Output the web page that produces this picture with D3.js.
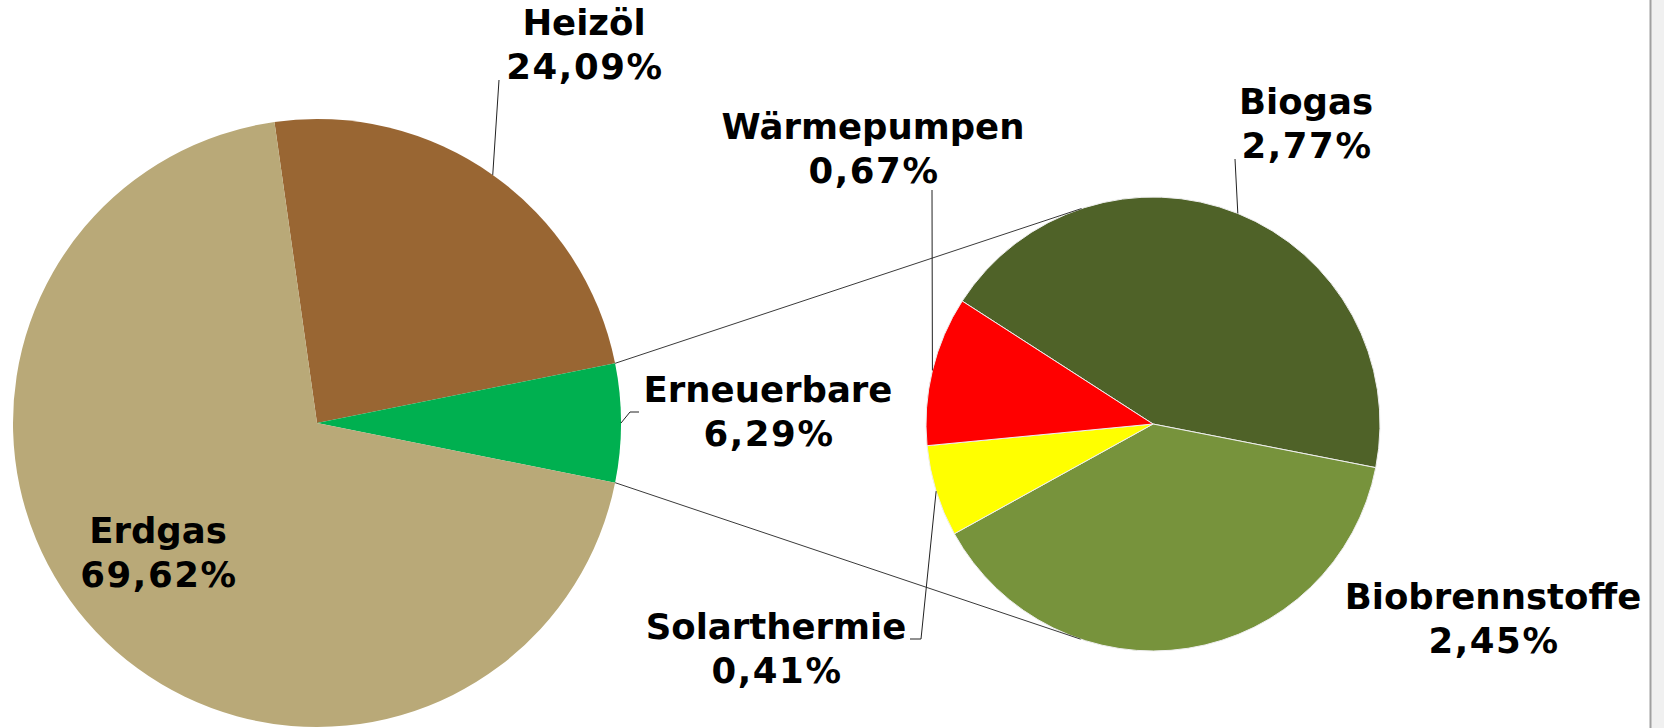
<!DOCTYPE html>
<html>
<head>
<meta charset="utf-8">
<script src="https://cdn.jsdelivr.net/npm/d3@7"></script>
<style>
    html, body { margin: 0; padding: 0; background: #fff; }
    svg { display: block; }
    .label { font-family: Verdana, "DejaVu Sans", sans-serif; font-weight: bold; font-size: 35.5px; fill: #000; }
    .label .pct { letter-spacing: 1.6px; }
</style>
</head>
<body>
<svg id="chart"></svg>
<script>

// main pie
var mainNames = ['Heizöl', 'Erneuerbare', 'Erdgas'];
var mainValues = [24.09, 6.29, 69.62];
var mainColors = ['#996633', '#00B050', '#B9A978'];

// Erneuerbare broken down in the second pie
var subNames = ['Biogas', 'Biobrennstoffe', 'Solarthermie', 'Wärmepumpen'];
var subValues = [2.77, 2.45, 0.41, 0.67];
var subColors = ['#4F6228', '#77933C', '#FFFF00', '#FF0000'];

var splitName = 'Erneuerbare';


var width = 1664;
var height = 728;

var mainPie = { cx: 317, cy: 423, r: 304 };
var subPie = { cx: 1153, cy: 424, r: 227, start: -57.2 };

// label anchors (centre x, first baseline) and leader line points
var labelPos = {
    'Heizöl': [584, 35],
    'Erdgas': [158, 543],
    'Erneuerbare': [768, 402],
    'Wärmepumpen': [873, 139],
    'Solarthermie': [776, 639],
    'Biogas': [1306, 114],
    'Biobrennstoffe': [1493, 609]
};
var leaders = {
    'Heizöl': [[499, 80]],
    'Erneuerbare': [[630, 412], [639, 412]],
    'Wärmepumpen': [[932, 190]],
    'Solarthermie': [[921, 639], [910, 639]],
    'Biogas': [[1235, 159]]
};
var lineGap = 44;

var deFormat = d3.formatLocale({ decimal: ',', thousands: '.', grouping: [3], currency: ['', '€'] }).format('.2f');


var svg = d3.select('#chart')
    .attr('width', width)
    .attr('height', height);

// right edge of the sheet
svg.append('rect')
    .attr('x', 1650)
    .attr('y', 0)
    .attr('width', width - 1650)
    .attr('height', height)
    .attr('fill', '#f0f0f0');
svg.append('line')
    .attr('x1', 1650.5).attr('x2', 1650.5)
    .attr('y1', 0).attr('y2', height)
    .attr('stroke', '#a0a0a0')
    .attr('stroke-width', 2);


function toRows(names, values, colors) {
    return names.map(function (n, i) {
        return { name: n, value: values[i], color: colors[i] };
    });
}

var mainData = toRows(mainNames, mainValues, mainColors);
var subData = toRows(subNames, subValues, subColors);

// the split slice sits centred on the right side of the main pie
var total = d3.sum(mainValues);
var splitIndex = mainNames.indexOf(splitName);
var before = d3.sum(mainValues.slice(0, splitIndex));
var mainStart = Math.PI / 2 - (before + mainValues[splitIndex] / 2) / total * 2 * Math.PI;

var mainArcs = d3.pie()
    .sort(null)
    .value(function (d) { return d.value; })
    .startAngle(mainStart)
    .endAngle(mainStart + 2 * Math.PI)(mainData);

var subStart = subPie.start * Math.PI / 180;
var subArcs = d3.pie()
    .sort(null)
    .value(function (d) { return d.value; })
    .startAngle(subStart)
    .endAngle(subStart + 2 * Math.PI)(subData);


var mainArc = d3.arc().innerRadius(0).outerRadius(mainPie.r);
var mainEdge = d3.arc().innerRadius(mainPie.r).outerRadius(mainPie.r);
var subArc = d3.arc().innerRadius(0).outerRadius(subPie.r);
var subEdge = d3.arc().innerRadius(subPie.r).outerRadius(subPie.r);


var gMain = svg.append('g')
    .attr('transform', 'translate(' + mainPie.cx + ',' + mainPie.cy + ')');

gMain.selectAll('path')
    .data(mainArcs)
    .enter().append('path')
    .attr('d', mainArc)
    .attr('fill', function (d) { return d.data.color; });

var gSub = svg.append('g')
    .attr('transform', 'translate(' + subPie.cx + ',' + subPie.cy + ')');

gSub.selectAll('path')
    .data(subArcs)
    .enter().append('path')
    .attr('d', subArc)
    .attr('fill', function (d) { return d.data.color; })
    .attr('stroke', '#eeeeee')
    .attr('stroke-width', 1);


// connector lines: split slice edges -> tangents of the second pie
function pointOnCircle(c, a) {
    return [c.cx + c.r * Math.sin(a), c.cy - c.r * Math.cos(a)];
}

function tangentPoint(p, c, sign) {
    var dx = p[0] - c.cx, dy = p[1] - c.cy;
    var d = Math.sqrt(dx * dx + dy * dy);
    var a = Math.atan2(dy, dx) + sign * Math.acos(c.r / d);
    return [c.cx + c.r * Math.cos(a), c.cy + c.r * Math.sin(a)];
}

var split = mainArcs[splitIndex];
var pTop = pointOnCircle(mainPie, split.startAngle);
var pBottom = pointOnCircle(mainPie, split.endAngle);
var connectors = [
    [pTop, tangentPoint(pTop, subPie, 1)],
    [pBottom, tangentPoint(pBottom, subPie, -1)]
];

svg.selectAll('.connector')
    .data(connectors)
    .enter().append('line')
    .attr('class', 'connector')
    .attr('x1', function (d) { return d[0][0]; })
    .attr('y1', function (d) { return d[0][1]; })
    .attr('x2', function (d) { return d[1][0]; })
    .attr('y2', function (d) { return d[1][1]; })
    .attr('stroke', '#3a3a3a')
    .attr('stroke-width', 1);


// leader lines from the slice edge to the label
var line = d3.line();

function drawLeaders(arcs, pie, edge) {
    arcs.forEach(function (d) {
        var pts = leaders[d.data.name];
        if (!pts) return;
        var c = edge.centroid(d);
        var start = [c[0] + pie.cx, c[1] + pie.cy];
        svg.append('path')
            .attr('d', line([start].concat(pts)))
            .attr('fill', 'none')
            .attr('stroke', '#222')
            .attr('stroke-width', 1);
    });
}

drawLeaders(mainArcs, mainPie, mainEdge);
drawLeaders(subArcs, subPie, subEdge);


// labels
function drawLabels(arcs) {
    arcs.forEach(function (d) {
        var pos = labelPos[d.data.name];
        var t = svg.append('text')
            .attr('class', 'label')
            .attr('text-anchor', 'middle');
        t.append('tspan')
            .attr('x', pos[0])
            .attr('y', pos[1])
            .text(d.data.name);
        t.append('tspan')
            .attr('class', 'pct')
            .attr('x', pos[0] + 1)
            .attr('y', pos[1] + lineGap)
            .text(deFormat(d.data.value) + '%');
    });
}

drawLabels(mainArcs);
drawLabels(subArcs);

</script>
</body>
</html>
